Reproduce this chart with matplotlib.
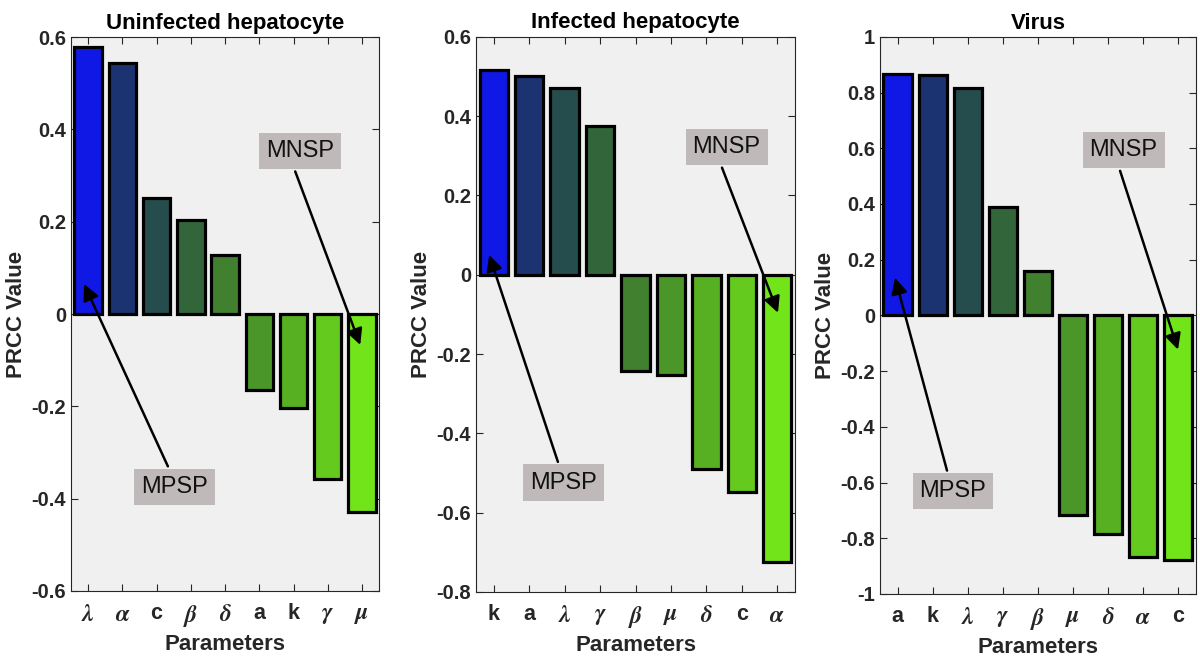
import numpy as np
import matplotlib
matplotlib.use('Agg')
import matplotlib.pyplot as plt
from matplotlib.ticker import FuncFormatter

plt.rcParams['font.family'] = ['Liberation Sans', 'DejaVu Sans']
plt.rcParams['mathtext.fontset'] = 'custom'
plt.rcParams['mathtext.it'] = 'STIXGeneral:italic:bold'
plt.rcParams['mathtext.rm'] = 'Liberation Sans:bold'

# PRCC values per model compartment, sorted as plotted
params1 = [r'$\lambda$', r'$\alpha$', 'c', r'$\beta$', r'$\delta$', 'a', 'k', r'$\gamma$', r'$\mu$']
prcc1 = [0.578, 0.545, 0.252, 0.204, 0.128, -0.165, -0.203, -0.358, -0.428]

params2 = ['k', 'a', r'$\lambda$', r'$\gamma$', r'$\beta$', r'$\mu$', r'$\delta$', 'c', r'$\alpha$']
prcc2 = [0.515, 0.50, 0.471, 0.376, -0.242, -0.253, -0.489, -0.548, -0.724]

params3 = ['a', 'k', r'$\lambda$', r'$\gamma$', r'$\beta$', r'$\mu$', r'$\delta$', r'$\alpha$', 'c']
prcc3 = [0.867, 0.864, 0.818, 0.389, 0.158, -0.718, -0.783, -0.867, -0.877]

titles = ['Uninfected hepatocyte', 'Infected hepatocyte', 'Virus']
ylims = [(-0.6, 0.6), (-0.8, 0.6), (-1, 1)]

# one colour per bar position, blue -> lime
bar_colors = ['#1018E6', '#1B3370', '#254D4D', '#32663A', '#40802E',
              '#4A9628', '#57B022', '#64CB1E', '#72E51A']

# axes rectangles in figure fractions
positions = [[0.0592, 0.1005, 0.2567, 0.843],
             [0.3967, 0.0990, 0.2658, 0.845],
             [0.7333, 0.0959, 0.2633, 0.848]]

# (box centre, arrow tail, arrow tip) in data coordinates
mpsp = [((3.51, -0.375), (3.33, -0.33), (0.88, 0.065)),
        ((2.98, -0.524), (2.81, -0.472), (0.87, 0.05)),
        ((2.58, -0.631), (2.41, -0.557), (0.93, 0.135))]
mnsp = [((7.18, 0.353), (7.05, 0.309), (8.95, -0.067)),
        ((7.57, 0.322), (7.44, 0.27), (9.02, -0.096)),
        ((7.44, 0.593), (7.34, 0.519), (8.99, -0.123))]

dark = '#262626'


def tick_fmt(v, pos):
    v = round(v, 2) + 0.0
    if v == 0:
        return '0'
    return '%g' % v


fig = plt.figure(figsize=(12, 6.57), dpi=100)

for i, (labels, vals) in enumerate([(params1, prcc1), (params2, prcc2), (params3, prcc3)]):
    ax = fig.add_axes(positions[i])
    ax.set_facecolor('#F0F0F0')
    x = np.arange(1, len(vals) + 1)
    ax.bar(x, vals, width=0.8, color=bar_colors, edgecolor='black', linewidth=2.3, zorder=2)
    ax.set_xlim(0.5, 9.5)
    ax.set_ylim(*ylims[i])
    lo, hi = ylims[i]
    ax.set_yticks(np.round(np.arange(lo, hi + 0.001, 0.2), 2))
    ax.yaxis.set_major_formatter(FuncFormatter(tick_fmt))
    ax.tick_params(direction='in', top=True, right=True, length=5, width=0.8,
                   colors=dark, labelsize=14.5)
    ax.tick_params(axis='x', pad=9)
    ax.set_xticks(x)
    ax.set_xticklabels(labels, fontweight='bold')
    for lab in ax.get_xticklabels():
        lab.set_fontsize(17 if '$' in lab.get_text() else 15.5)
    for t in ax.get_yticklabels():
        t.set_fontweight('bold')
    for s in ax.spines.values():
        s.set_color(dark)
        s.set_linewidth(0.8)
    ax.set_title(titles[i], fontsize=16, fontweight='bold', pad=6)
    ax.set_xlabel('Parameters', fontsize=16, fontweight='bold', color=dark, labelpad=3)
    ax.set_ylabel('PRCC Value', fontsize=16, fontweight='bold', color=dark, labelpad=3)

    for (box, tail, tip), name in [(mpsp[i], 'MPSP'), (mnsp[i], 'MNSP')]:
        ax.annotate('', xy=tip, xytext=tail,
                    arrowprops=dict(arrowstyle='-|>', color='black', lw=1.8,
                                    mutation_scale=24, shrinkA=0, shrinkB=0),
                    zorder=4)
        ax.text(box[0], box[1], name, fontsize=17, ha='center', va='center',
                color='#111111', zorder=5,
                bbox=dict(boxstyle='square,pad=0.3', facecolor='#BFB9B9',
                          edgecolor='none'))

fig.savefig('out.png', dpi=100)
